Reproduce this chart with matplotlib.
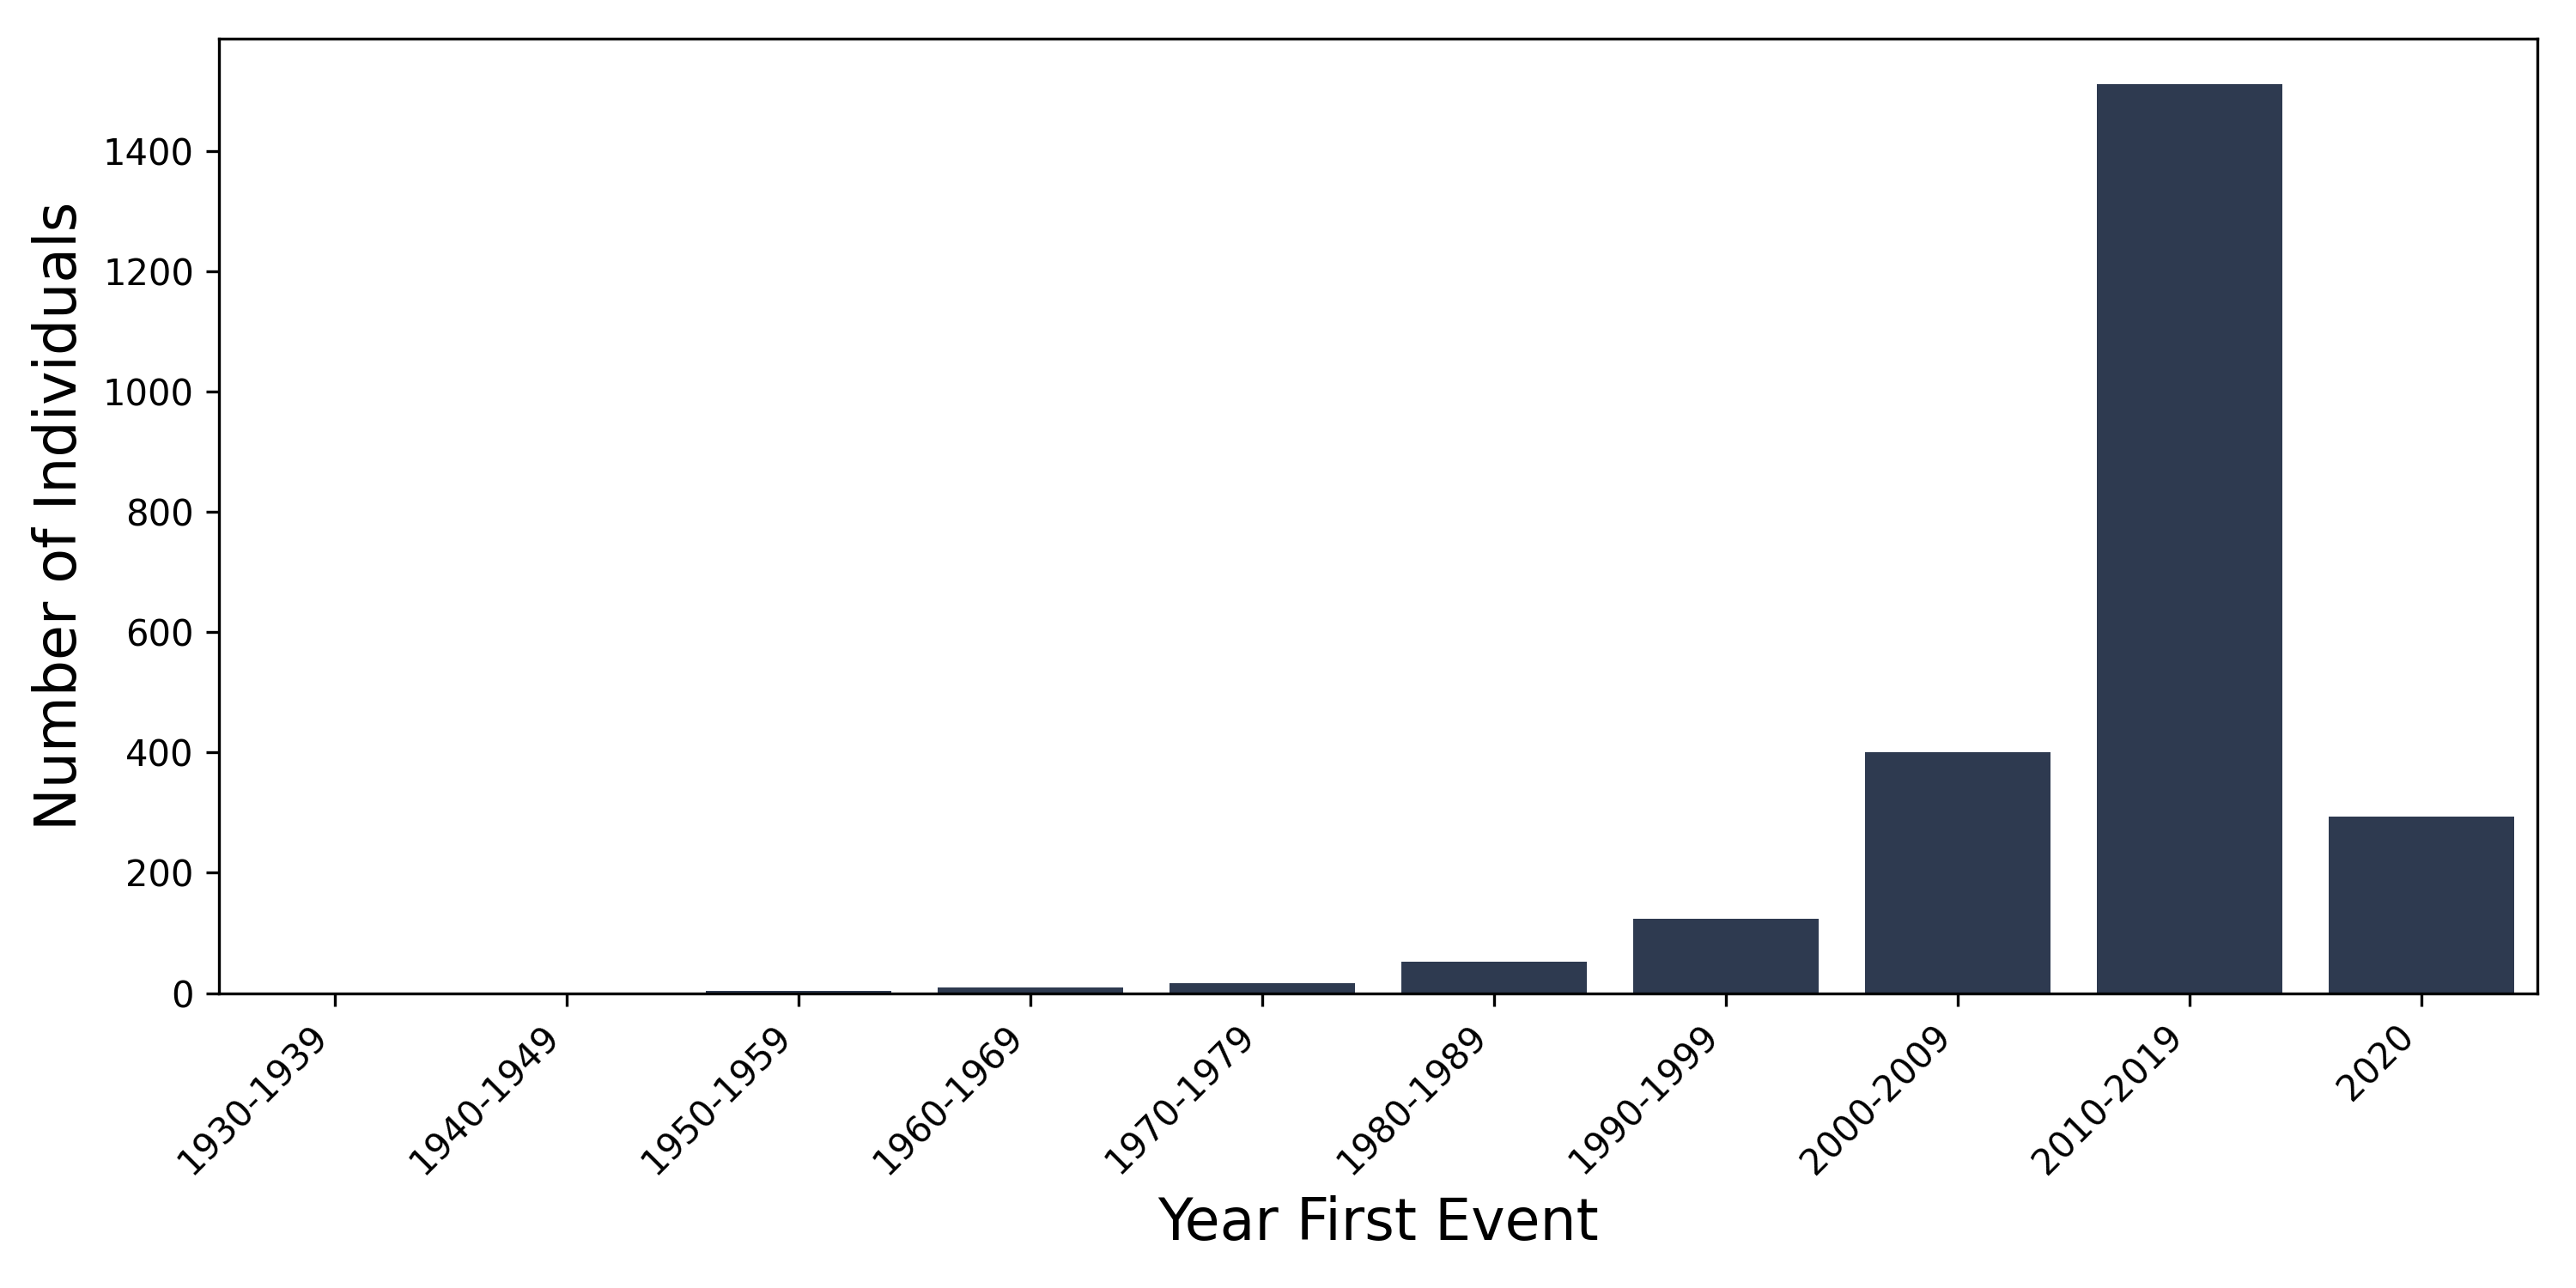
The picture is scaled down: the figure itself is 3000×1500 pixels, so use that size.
import matplotlib.pyplot as plt
import numpy as np

decades = ['1930-1939', '1940-1949', '1950-1959', '1960-1969', '1970-1979',
           '1980-1989', '1990-1999', '2000-2009', '2010-2019', '2020']
counts = [1, 1, 3, 9, 17, 52, 124, 400, 1512, 294]

fig, ax = plt.subplots(figsize=(10, 5), dpi=300)
x = np.arange(len(decades))
ax.bar(x, counts, width=0.8, color='#2e3a50')
ax.set_xlim(-0.5, len(decades) - 0.5)
ax.set_xticks(x)
ax.set_xticklabels(decades, rotation=45, ha='right')
ax.set_xlabel('Year First Event', fontsize=16)
ax.set_ylabel('Number of Individuals', fontsize=16)

fig.subplots_adjust(left=0.085, right=0.985, top=0.97, bottom=0.229)
fig.savefig('out.png')
